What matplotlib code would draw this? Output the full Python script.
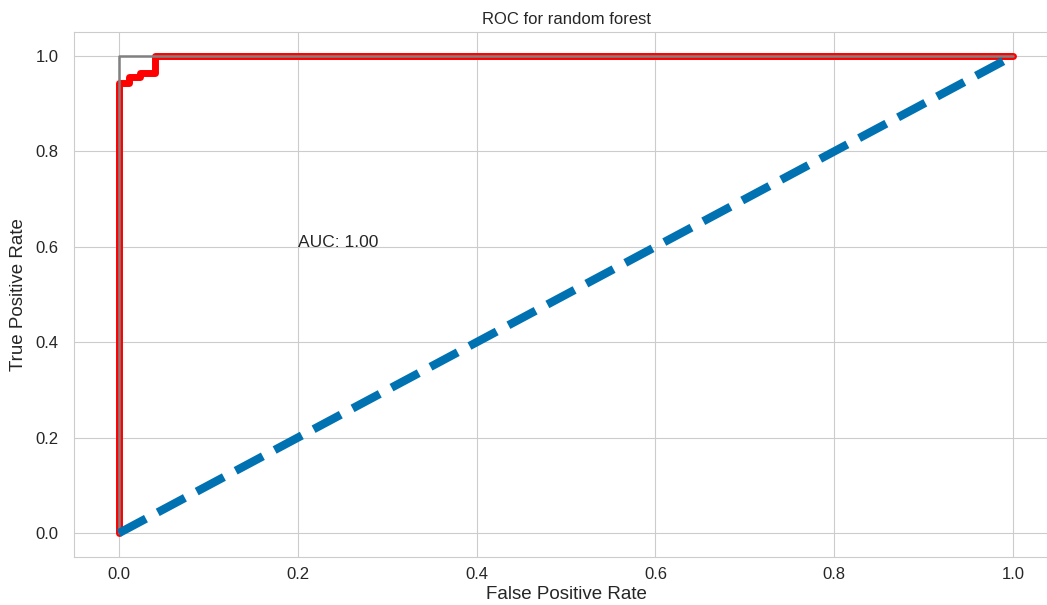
import matplotlib
matplotlib.use("Agg")
import matplotlib.pyplot as plt
import seaborn as sns

# ROC curve points
fpr = [0.0, 0.0, 0.012, 0.012, 0.024, 0.024, 0.04, 0.04, 1.0]
tpr = [0.0, 0.944, 0.944, 0.955, 0.955, 0.965, 0.965, 1.0, 1.0]

# perfect classifier and chance line
perfect_x = [0.0, 0.0, 1.0]
perfect_y = [0.0, 1.0, 1.0]
chance = [0.0, 1.0]

auc_value = 1.00

sns.set_style("whitegrid")
plt.rcParams['font.family'] = ['Liberation Sans', 'DejaVu Sans']

fig = plt.figure(figsize=(10.47, 6.05), dpi=100)
ax = fig.add_axes([0.0707, 0.0793, 0.9398, 0.8678])

ax.plot(fpr, tpr, color='#ff0000', linewidth=5, zorder=3)
ax.plot(perfect_x, perfect_y, color='gray', linewidth=1.8, zorder=4)
ax.plot(chance, chance, color='#0072B2', linewidth=6, linestyle='--', zorder=5)

ax.text(0.2, 0.6, 'AUC: %.2f' % auc_value, fontsize=12.5, color='#262626')

ax.set_xlim(-0.05, 1.05)
ax.set_ylim(-0.05, 1.05)
ax.set_xticks([0.0, 0.2, 0.4, 0.6, 0.8, 1.0])
ax.set_yticks([0.0, 0.2, 0.4, 0.6, 0.8, 1.0])
ax.tick_params(labelsize=12, colors='#262626')
ax.tick_params(axis='y', pad=7.5)
ax.set_xlabel('False Positive Rate', fontsize=13.5, color='#262626', labelpad=3)
ax.set_ylabel('True Positive Rate', fontsize=13.5, color='#262626', labelpad=6)
ax.set_title('ROC for random forest', fontsize=12, color='#262626')

plt.savefig('out.png', dpi=100)
plt.close()
